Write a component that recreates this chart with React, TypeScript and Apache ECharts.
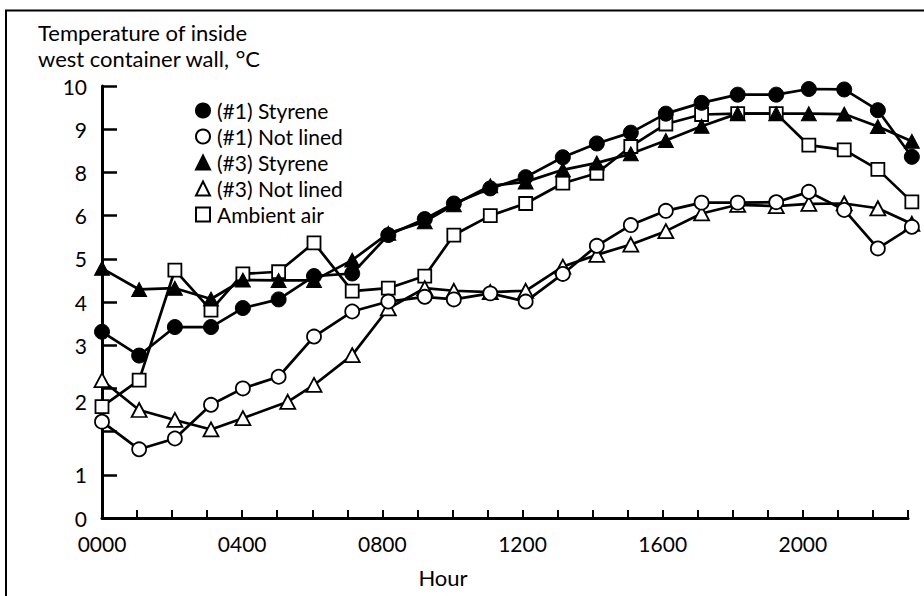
import React, { useEffect, useRef } from "react";
import * as echarts from "echarts";

const hours = [0, 1.06, 2.08, 3.11, 4.02, 5.04, 6.05, 7.14, 8.17, 9.21, 10.04, 11.08, 12.09, 13.15, 14.12, 15.09, 16.09, 17.11, 18.14, 19.24, 20.17, 21.18, 22.14, 23.11];
const hoursNotLined3 = [0, 1.06, 2.08, 3.11, 4.02, 5.3, 6.05, 7.14, 8.17, 9.21, 10.04, 11.08, 12.09, 13.15, 14.12, 15.09, 16.09, 17.11, 18.14, 19.24, 20.17, 21.18, 22.14, 23.11];

// Values in units of the (irregularly labelled) vertical scale: one unit per tick
const styrene1 = [4.31, 3.76, 4.42, 4.42, 4.86, 5.06, 5.6, 5.66, 6.55, 6.92, 7.28, 7.63, 7.89, 8.35, 8.67, 8.92, 9.36, 9.61, 9.8, 9.8, 9.93, 9.92, 9.44, 8.36];
const notLined1 = [2.23, 1.59, 1.84, 2.62, 3.0, 3.27, 4.2, 4.78, 5.01, 5.12, 5.06, 5.2, 5.01, 5.65, 6.3, 6.78, 7.11, 7.3, 7.3, 7.31, 7.55, 7.13, 6.24, 6.74];
const styrene3 = [5.78, 5.29, 5.32, 5.07, 5.51, 5.5, 5.5, 5.97, 6.59, 6.86, 7.25, 7.69, 7.78, 8.06, 8.22, 8.43, 8.74, 9.07, 9.36, 9.36, 9.36, 9.35, 9.06, 8.72];
const notLined3 = [3.19, 2.5, 2.27, 2.05, 2.31, 2.69, 3.08, 3.77, 4.85, 5.32, 5.26, 5.23, 5.26, 5.82, 6.09, 6.33, 6.64, 7.05, 7.25, 7.22, 7.27, 7.28, 7.17, 6.81];
const ambientAir = [2.58, 3.19, 5.74, 4.81, 5.65, 5.7, 6.37, 5.25, 5.32, 5.6, 6.55, 7.0, 7.28, 7.75, 7.98, 8.6, 9.12, 9.34, 9.36, 9.36, 8.63, 8.52, 8.07, 7.32];

// Tick labels
const xLabelHours = [0, 4, 8, 12, 16, 20];
const xLabelTexts = ["0000", "0400", "0800", "1200", "1600", "2000"];
const yLabelValues = [0, 1, 2.7, 4, 5, 6, 7, 8, 9, 10];
const yLabelTexts = ["0", "1", "2", "3", "4", "5", "6", "8", "9", "10"];

const seriesNames = ["(#1) Styrene", "(#1) Not lined", "(#3) Styrene", "(#3) Not lined", "Ambient air"];

const FONT = "Lato";

function pairs(xs: number[], ys: number[]) {
  return ys.map((y, i) => [xs[i], y]);
}

export default function App() {
  const ref = useRef<HTMLDivElement>(null);
  useEffect(() => {
    if (!ref.current) return;
    const chart = echarts.init(ref.current, null, { renderer: "svg" });
    const lineStyle = { color: "#000", width: 2.7 };
    const filled = { color: "#000", borderColor: "#000", borderWidth: 1 };
    const open = { color: "#fff", borderColor: "#000", borderWidth: 1.8 };
    const mk = (name: string, xs: number[], ys: number[], symbol: string, size: any, itemStyle: any) => ({
      name,
      type: "line",
      data: pairs(xs, ys),
      symbol,
      symbolSize: size,
      showAllSymbol: true,
      clip: false,
      lineStyle,
      itemStyle,
      emphasis: { disabled: true },
    });
    chart.setOption({
      animation: false,
      backgroundColor: "#fff",
      textStyle: { fontFamily: FONT, color: "#000" },
      title: {
        text: "Temperature of inside\nwest container wall, {deg|°}C",
        left: 38,
        top: 19,
        padding: 0,
        textStyle: {
          fontFamily: FONT,
          fontSize: 22,
          fontWeight: "normal",
          color: "#000",
          lineHeight: 26,
          rich: { deg: { fontFamily: FONT, fontSize: 24, lineHeight: 26, color: "#000" } },
        },
      },
      legend: {
        orient: "vertical",
        left: 195,
        top: 100,
        padding: 0,
        itemWidth: 14,
        itemHeight: 14,
        itemGap: 5,
        textStyle: { fontFamily: FONT, fontSize: 21, lineHeight: 20, color: "#000", padding: [0, 0, 0, 2] },
        data: [
          { name: seriesNames[0], icon: "circle" },
          { name: seriesNames[1], icon: "circle" },
          { name: seriesNames[2], icon: "triangle" },
          { name: seriesNames[3], icon: "triangle" },
          { name: seriesNames[4], icon: "rect" },
        ],
        selectedMode: false,
      },
      grid: { left: 102, right: 16, top: 86, bottom: 78, containLabel: false },
      xAxis: {
        type: "value",
        min: 0,
        max: 23,
        interval: 1,
        name: "Hour",
        nameLocation: "middle",
        nameGap: 47,
        nameTextStyle: { fontFamily: FONT, fontSize: 22, color: "#000", lineHeight: 24, padding: [0, 124, 0, 0] },
        axisLine: { show: true, lineStyle: { color: "#000", width: 3 } },
        axisTick: { show: true, inside: true, length: 8, lineStyle: { color: "#000", width: 2 } },
        axisLabel: {
          customValues: xLabelHours,
          margin: 15,
          fontFamily: FONT,
          fontSize: 21,
          color: "#000",
          formatter: (v: number) => {
            const i = xLabelHours.indexOf(Math.round(v));
            return i >= 0 ? xLabelTexts[i] : "";
          },
        },
        splitLine: { show: false },
      },
      yAxis: {
        type: "value",
        min: 0,
        max: 10,
        interval: 1,
        axisLine: { show: true, lineStyle: { color: "#000", width: 3 } },
        axisTick: { show: true, inside: true, length: 15, lineStyle: { color: "#000", width: 2.5 } },
        axisLabel: {
          customValues: yLabelValues,
          margin: 15,
          fontFamily: FONT,
          fontSize: 21,
          color: "#000",
          formatter: (v: number) => {
            const i = yLabelValues.findIndex((y) => Math.abs(y - v) < 1e-6);
            return i >= 0 ? yLabelTexts[i] : "";
          },
        },
        splitLine: { show: false },
      },
      graphic: [
        {
          type: "polyline",
          silent: true,
          shape: { points: [[6, 700], [6, 10.5], [1000, 10.5]] },
          style: { stroke: "#000", lineWidth: 2, fill: null },
        },
      ],
      series: [
        mk(seriesNames[4], hours, ambientAir, "rect", 13, open),
        mk(seriesNames[3], hoursNotLined3, notLined3, "triangle", [15, 14], open),
        mk(seriesNames[1], hours, notLined1, "circle", 14, open),
        mk(seriesNames[2], hours, styrene3, "triangle", [15, 14], filled),
        mk(seriesNames[0], hours, styrene1, "circle", 15, filled),
      ],
    });
    return () => chart.dispose();
  }, []);
  return (
    <div
      ref={ref}
      style={{ position: "fixed", left: 0, top: 0, width: 924, height: 596, background: "#fff" }}
    />
  );
}
